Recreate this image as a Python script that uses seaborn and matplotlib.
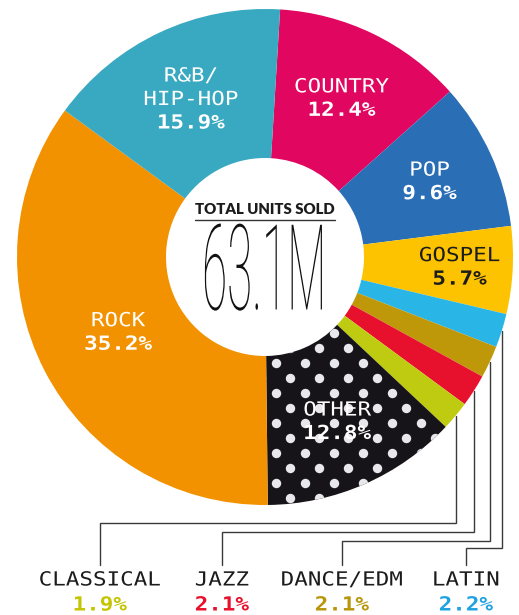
import numpy as np
import matplotlib
matplotlib.use("Agg")
import matplotlib.pyplot as plt
import seaborn as sns
from matplotlib.patheffects import AbstractPathEffect
from matplotlib.transforms import Affine2D

# ---- data -------------------------------------------------------------
genres = ["COUNTRY", "POP", "GOSPEL", "LATIN", "DANCE/EDM", "JAZZ",
          "CLASSICAL", "OTHER", "ROCK", "R&B/\nHIP-HOP"]
shares = [12.4, 9.6, 5.7, 2.2, 2.1, 2.1, 1.9, 12.8, 35.2, 15.9]
genre_colors = ["#E1065F", "#2A6EB6", "#FDC300", "#29B5E6", "#BF980A",
                "#E8112D", "#BFCB10", "#161418", "#F39200", "#38A9C0"]
pct_text_colors = {"LATIN": "#1FA3E0", "DANCE/EDM": "#B8960A",
                   "JAZZ": "#E8112D", "CLASSICAL": "#C4C400"}
total_label = "TOTAL UNITS SOLD"
total_value = "63.1M"

# small slices that are labelled below the ring, left to right
callouts = ["CLASSICAL", "JAZZ", "DANCE/EDM", "LATIN"]

# ---- layout (pixel units, y measured upward) --------------------------
W, H = 519, 615
CX, CY = 265, H - 257
R_OUT, R_IN = 248, 99


class Stretch(AbstractPathEffect):
    """Draw text rescaled about the centre of its own outline."""

    def __init__(self, sx=1.0, sy=1.0):
        super().__init__()
        self.sx, self.sy = sx, sy

    def draw_path(self, renderer, gc, tpath, affine, rgbFace=None):
        ext = tpath.get_extents()
        mx, my = (ext.x0 + ext.x1) / 2, (ext.y0 + ext.y1) / 2
        t = (Affine2D().translate(-mx, -my).scale(self.sx, self.sy)
             .translate(mx, my))
        renderer.draw_path(gc, tpath, t + affine, rgbFace)


sns.set_theme(style="white")
plt.rcParams["font.family"] = ["DejaVu Sans Mono", "DejaVu Sans"]

fig = plt.figure(figsize=(W / 100, H / 100), dpi=100)
ax = fig.add_axes([0, 0, 1, 1])

palette = sns.color_palette(genre_colors)
wedges, _ = ax.pie(shares, colors=palette, startangle=86.5, counterclock=False,
                   center=(CX, CY), radius=R_OUT,
                   wedgeprops=dict(width=R_OUT - R_IN, linewidth=0))
ax.set_xlim(0, W)
ax.set_ylim(0, H)
ax.set_aspect("equal")
ax.axis("off")


def mid_angle(w):
    return np.deg2rad((w.theta1 + w.theta2) / 2)


# polka-dot texture on the OTHER slice
other = wedges[genres.index("OTHER")]
rows = np.arange(-20, 21)
px, py = [], []
for j in rows:
    xs = 290 + 14.5 * (j % 2) + 29 * np.arange(-20, 21)
    px.extend(xs)
    py.extend(np.full(xs.shape, (H - 378) - 15 * j))
dots = ax.scatter(px, py, s=46, color="#E8E8EC", linewidths=0, zorder=3)
dots.set_clip_path(other)

label_fx = [Stretch(1.16, 1.0)]

# labels inside the ring
label_radius = {"COUNTRY": 176, "POP": 181, "GOSPEL": 195, "OTHER": 180,
                "ROCK": 165, "R&B/\nHIP-HOP": 174}
dark_text = {"GOSPEL"}
LINE = 23.5
for w, name, val in zip(wedges, genres, shares):
    if name not in label_radius:
        continue
    a = mid_angle(w)
    r = label_radius[name]
    x, y = CX + r * np.cos(a), CY + r * np.sin(a)
    lines = name.split("\n") + [f"{val:.1f}%"]
    n = len(lines)
    col = "#1C1C1C" if name in dark_text else "white"
    for i, line in enumerate(lines):
        ly = y + (n - 1) / 2 * LINE - i * LINE
        bold = i == n - 1
        ax.text(x, ly, line, ha="center", va="center", color=col,
                fontsize=14, fontweight="bold" if bold else "normal",
                zorder=5, path_effects=label_fx)

# callout leader lines and labels for the thin slices
callout_x = [100, 222, 342, 466]
elbow_y = [H - 523, H - 532, H - 541, H - 548]
stub_y = H - 565
for name, lx, ey in zip(callouts, callout_x, elbow_y):
    w = wedges[genres.index(name)]
    a = mid_angle(w)
    sx, sy = CX + R_OUT * np.cos(a), CY + R_OUT * np.sin(a)
    ax.plot([sx, sx, lx, lx], [sy, ey, ey, stub_y], color="#3A3A3A",
            lw=1.0, solid_joinstyle="miter", zorder=2)
    val = shares[genres.index(name)]
    ax.text(lx, H - 580, name, ha="center", va="center", fontsize=14,
            color="#1C1C1C", path_effects=label_fx)
    ax.text(lx, H - 605, f"{val:.1f}%", ha="center", va="center",
            fontsize=14, fontweight="bold", color=pct_text_colors[name],
            path_effects=label_fx)

# centre caption
ax.text(CX, H - 209, total_label, ha="center", va="center",
        family=["Lato", "DejaVu Sans"], fontweight="heavy", fontsize=10.8,
        color="#1C1C1C", zorder=5)
ax.plot([CX - 70, CX + 70], [H - 219.5, H - 219.5], color="#333333",
        lw=1.0, zorder=5)
ax.text(CX, H - 274, total_value, ha="center", va="center",
        family=["Roboto", "DejaVu Sans"], fontweight="light", fontsize=60,
        color="#111111", zorder=5, path_effects=[Stretch(0.55, 1.43)])

fig.savefig("out.png", dpi=100)
